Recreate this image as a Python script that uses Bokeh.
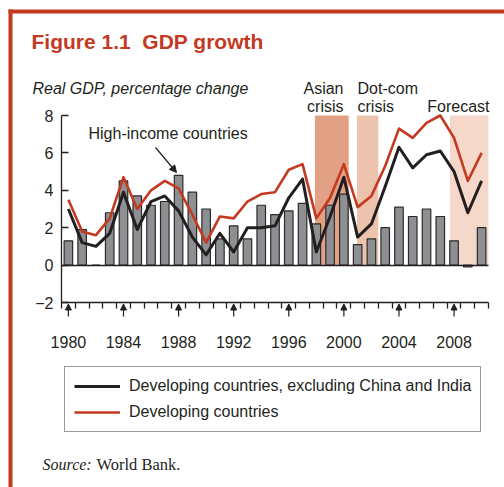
from bokeh.plotting import figure
from bokeh.models import (FixedTicker, Label, Arrow, NormalHead, Legend,
                          LegendItem, BoxAnnotation, Range1d, ColumnDataSource,
                          LinearAxis)
from bokeh.embed import file_html
from bokeh.resources import INLINE

# ---------------- data ----------------
years = list(range(1980, 2011))
high_income = [1.3, 1.9, 0.0, 2.8, 4.5, 3.7, 3.2, 3.4, 4.8, 3.9,
               3.0, 1.4, 2.1, 1.4, 3.2, 2.7, 2.9, 3.3, 2.2, 3.2,
               3.8, 1.1, 1.4, 2.0, 3.1, 2.6, 3.0, 2.6, 1.3, -0.1, 2.0]
dev_excl_china_india = [3.0, 1.2, 1.0, 1.7, 3.9, 1.9, 3.4, 3.7, 2.9, 1.5,
                        0.55, 1.7, 0.7, 2.0, 2.0, 2.1, 3.6, 4.6, 0.7, 2.6,
                        4.7, 1.5, 2.2, 4.2, 6.3, 5.2, 5.9, 6.1, 5.0, 2.8, 4.5]
developing = [3.5, 1.8, 1.6, 2.5, 4.7, 3.0, 4.0, 4.5, 4.1, 2.7,
              1.2, 2.6, 2.5, 3.4, 3.8, 3.9, 5.1, 5.4, 2.5, 3.6,
              5.4, 3.1, 3.7, 5.3, 7.3, 6.8, 7.6, 8.0, 6.8, 4.5, 6.0]
period_labels = ["Asian crisis", "Dot-com crisis", "Forecast"]
period_start = [1997.9, 2000.95, 2007.7]
period_end = [2000.35, 2002.5, 2010.5]
period_colors = ["#E2A185", "#EEC3AE", "#F6D8CA"]
year_ticks = [1980, 1984, 1988, 1992, 1996, 2000, 2004, 2008]
value_ticks = [-2, 0, 2, 4, 6, 8]

# ---------------- geometry ----------------
W, H = 504, 487
X0, X1, Y0, Y1 = 1979.5, 2010.5, -2, 8
PX_L, PX_R, PY_T, PY_B = 61, 488, 115, 302   # plot area in page pixels
SX = (PX_R - PX_L) / (X1 - X0)
SY = (PY_B - PY_T) / (Y1 - Y0)


def dx(px):
    return X0 + (px - PX_L) / SX


def dy(py):
    return Y1 - (py - PY_T) / SY


RED = "#C4391F"
BLACK = "#231F20"
FONT = "Liberation Sans"
FS = "16px"

p = figure(width=W, height=H, output_backend="svg", toolbar_location=None,
           x_range=Range1d(dx(0), dx(W)), y_range=Range1d(dy(H), dy(0)),
           min_border=0, x_axis_type=None, y_axis_type=None)
p.outline_line_color = None
p.grid.visible = False
p.background_fill_color = "white"
p.border_fill_color = "white"

# shaded periods
src_shade = ColumnDataSource(dict(left=period_start, right=period_end,
                                  bottom=[0] * 3, top=[Y1] * 3,
                                  color=period_colors))
p.quad(left="left", right="right", bottom="bottom", top="top",
       fill_color="color", line_color=None, source=src_shade)

# bars
p.vbar(x=years, top=high_income, bottom=0, width=0.62,
       fill_color="#8E8F93", line_color="#2B2B2B", line_width=1.2)

# zero line (axis without ticks)
zero_axis = LinearAxis(fixed_location=0, bounds=(X0, X1),
                       ticker=FixedTicker(ticks=[]),
                       major_tick_line_color=None, minor_tick_line_color=None,
                       major_label_text_font_size="0px",
                       axis_line_color=BLACK, axis_line_width=1.5)
p.add_layout(zero_axis, "below")

# lines
r_black = p.line(years, dev_excl_china_india, line_color=BLACK,
                 line_width=3, line_join="round")
r_red = p.line(years, developing, line_color=RED, line_width=2.6,
               line_join="round")

# y axis
ya = LinearAxis(fixed_location=X0, bounds=(Y0, Y1),
                ticker=FixedTicker(ticks=value_ticks))
ya.major_label_overrides = {-2: "\u22122"}
ya.major_tick_in = 7
ya.major_tick_out = 0
ya.minor_tick_line_color = None
ya.major_label_standoff = 8
ya.major_label_text_font = FONT
ya.major_label_text_font_size = FS
ya.major_label_text_color = BLACK
ya.axis_line_width = 1.3
ya.axis_line_color = BLACK
ya.major_tick_line_width = 1.3
ya.major_tick_line_color = BLACK
p.add_layout(ya, "left")

# x axis
xa = LinearAxis(fixed_location=Y0, bounds=(X0, X1),
                ticker=FixedTicker(ticks=year_ticks,
                                   minor_ticks=[X0 + i for i in range(32)]))
xa.major_tick_line_color = None
xa.major_tick_out = 0
xa.major_tick_in = 0
xa.minor_tick_in = 0
xa.minor_tick_out = 6
xa.minor_tick_line_width = 1.3
xa.minor_tick_line_color = BLACK
xa.major_label_standoff = 27
xa.major_label_text_font = FONT
xa.major_label_text_font_size = FS
xa.major_label_text_color = BLACK
xa.axis_line_width = 1.3
xa.axis_line_color = BLACK
p.add_layout(xa, "below")

# arrows under year labels
for yr in year_ticks:
    p.add_layout(Arrow(x_start=yr, y_start=dy(316), x_end=yr, y_end=dy(303.5),
                       line_width=1.2, line_color=BLACK,
                       end=NormalHead(size=6, fill_color=BLACK,
                                      line_color=BLACK)))


# texts (y = vertical centre of the capitals, in page pixels)
def lab(x, y, text, size=FS, style="normal", color=BLACK, align="left",
        font=FONT):
    p.add_layout(Label(x=x, y=y, text=text, text_font=font,
                       text_font_size=size, text_font_style=style,
                       text_color=color, text_align=align,
                       text_baseline="middle"))


lab(dx(31), dy(41), "Figure 1.1\u00a0 GDP growth", size="21px", style="bold",
    color=RED)
lab(dx(32), dy(87.5), "Real GDP, percentage change", style="italic")
lab(dx(343), dy(88), "Asian", align="right")
lab(dx(343), dy(105.8), "crisis", align="right")
lab(dx(357), dy(88), "Dot-com")
lab(dx(357), dy(105.8), "crisis")
lab(dx(489), dy(105.8), "Forecast", align="right")
lab(dx(88), dy(133.3), "High-income countries")
lab(dx(42), dy(464), "Source:", size="16px", style="italic",
    font="Liberation Serif")
lab(dx(96), dy(464), "World Bank.", size="16.5px",
    font="Liberation Serif")

p.add_layout(Arrow(x_start=dx(155), y_start=dy(147), x_end=dx(176),
                   y_end=dy(172), line_width=1.2, line_color=BLACK,
                   end=NormalHead(size=7, fill_color=BLACK,
                                  line_color=BLACK)))

# red frame
p.add_layout(BoxAnnotation(left=dx(8), right=dx(510), top=dy(9), bottom=dy(13),
                           fill_color=RED, fill_alpha=1, line_color=None))
p.add_layout(BoxAnnotation(left=dx(8), right=dx(12), top=dy(9), bottom=dy(495),
                           fill_color=RED, fill_alpha=1, line_color=None))

# legend
legend = Legend(items=[LegendItem(label="Developing countries, excluding China and India",
                                  renderers=[r_black]),
                       LegendItem(label="Developing countries",
                                  renderers=[r_red])],
                location=(64, H - 432), glyph_width=46, glyph_height=20,
                label_height=20, label_standoff=9, spacing=6, padding=9,
                label_text_font=FONT, label_text_font_size=FS,
                label_text_color=BLACK, border_line_color="#333333",
                border_line_width=1.5, background_fill_color="white",
                background_fill_alpha=1, margin=0)
p.add_layout(legend)

open("out.html", "w").write(file_html(p, INLINE))
